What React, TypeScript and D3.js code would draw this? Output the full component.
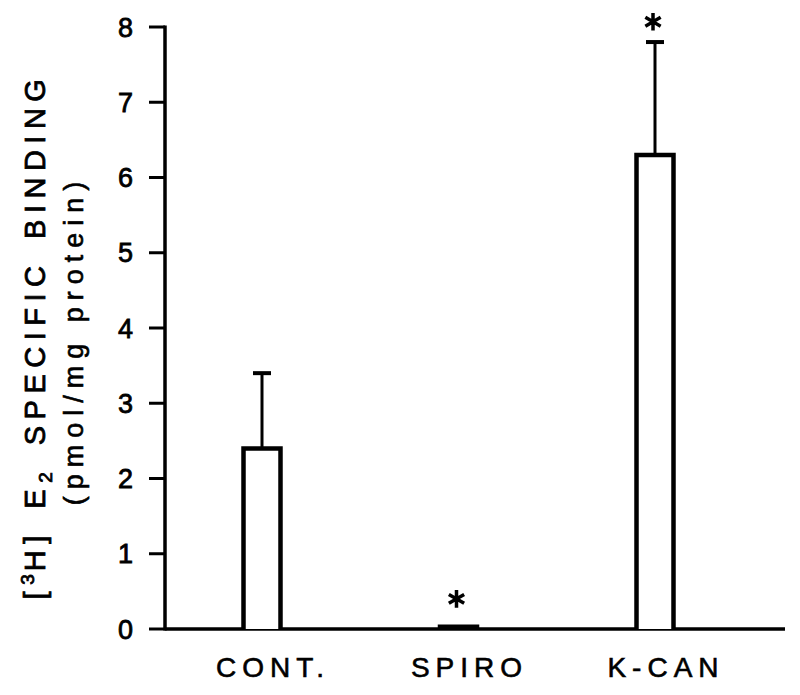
import React from 'react';
import * as d3 from 'd3';

// groups and values (pmol/mg protein)
const categories = ['CONT.', 'SPIRO', 'K-CAN'];
const means = [2.4, 0.03, 6.3];
const errors = [1.0, 0, 1.5];
// asterisk positions (value units) for significant groups
const starGroups = ['SPIRO', 'K-CAN'];
const starValues = [0.4, 8.07];
const yTicks = [0, 1, 2, 3, 4, 5, 6, 7, 8];

const W = 800;
const H = 695;

const App = () => {
  const x = d3.scalePoint<string>().domain(categories).range([262, 655]);
  const y = d3.scaleLinear().domain([0, 8]).range([629, 27]);
  const axisX = 165;
  const barW = 37;
  const font = "'Liberation Sans', Arial, Helvetica, sans-serif";
  const star = d3.symbol().type(d3.symbolAsterisk).size(220)();
  const catLs = 6;

  return (
    <svg width={W} height={H} style={{ position: 'absolute', left: 0, top: 0, background: '#fff' }}>
      {/* y axis */}
      <line x1={axisX} x2={axisX} y1={y(0) + 1.5} y2={y(8) - 1.5} stroke="#000" strokeWidth={3.5} />
      {yTicks.map(t => (
        <g key={t}>
          <line x1={axisX - 16} x2={axisX} y1={y(t)} y2={y(t)} stroke="#000" strokeWidth={3} />
          <text x={133} y={y(t)} dy="0.36em" textAnchor="end" fontFamily={font} fontSize={27}
            fill="#000" stroke="#000" strokeWidth={0.8}>{t}</text>
        </g>
      ))}
      {/* x axis */}
      <line x1={axisX} x2={785} y1={y(0)} y2={y(0)} stroke="#000" strokeWidth={3.5} />

      {/* bars */}
      {categories.map((c, i) => {
        const cx = x(c)!;
        const top = y(means[i]);
        return (
          <g key={c}>
            {errors[i] > 0 && (
              <g>
                <line x1={cx} x2={cx} y1={top} y2={y(means[i] + errors[i])} stroke="#000" strokeWidth={3} />
                <line x1={cx - 9} x2={cx + 9} y1={y(means[i] + errors[i])} y2={y(means[i] + errors[i])} stroke="#000" strokeWidth={4} />
              </g>
            )}
            <path
              d={`M${cx - barW / 2},${y(0)}V${top}H${cx + barW / 2}V${y(0)}`}
              fill="#fff"
              stroke="#000"
              strokeWidth={4.5}
            />
            <text x={cx + 8 + catLs / 2} y={677} textAnchor="middle" fontFamily={font} fontSize={28}
              letterSpacing={catLs} fill="#000" stroke="#000" strokeWidth={0.6}>{c}</text>
          </g>
        );
      })}

      {/* significance asterisks */}
      {starGroups.map((g, i) => (
        <path key={g} d={star || ''} transform={`translate(${x(g)! - 2},${y(starValues[i])})`} fill="none" stroke="#000" strokeWidth={3.5} />
      ))}

      {/* y label */}
      <g transform="translate(45,336) rotate(-90)">
        <text textAnchor="middle" fontFamily={font} fontSize={29} letterSpacing={6.5} wordSpacing={6}
          fill="#000" stroke="#000" strokeWidth={0.8}>
          <tspan>[</tspan>
          <tspan dy={-11} fontSize={19} letterSpacing={3}>3</tspan>
          <tspan dy={11}>H] E</tspan>
          <tspan dy={7} fontSize={19}>2</tspan>
          <tspan dy={-7}> SPECIFIC BINDING</tspan>
        </text>
      </g>
      <g transform="translate(83,340) rotate(-90)">
        <text textAnchor="middle" fontFamily={font} fontSize={27} letterSpacing={7} fill="#000"
          stroke="#000" strokeWidth={0.6}>(pmol/mg protein)</text>
      </g>
    </svg>
  );
};

export default App;
